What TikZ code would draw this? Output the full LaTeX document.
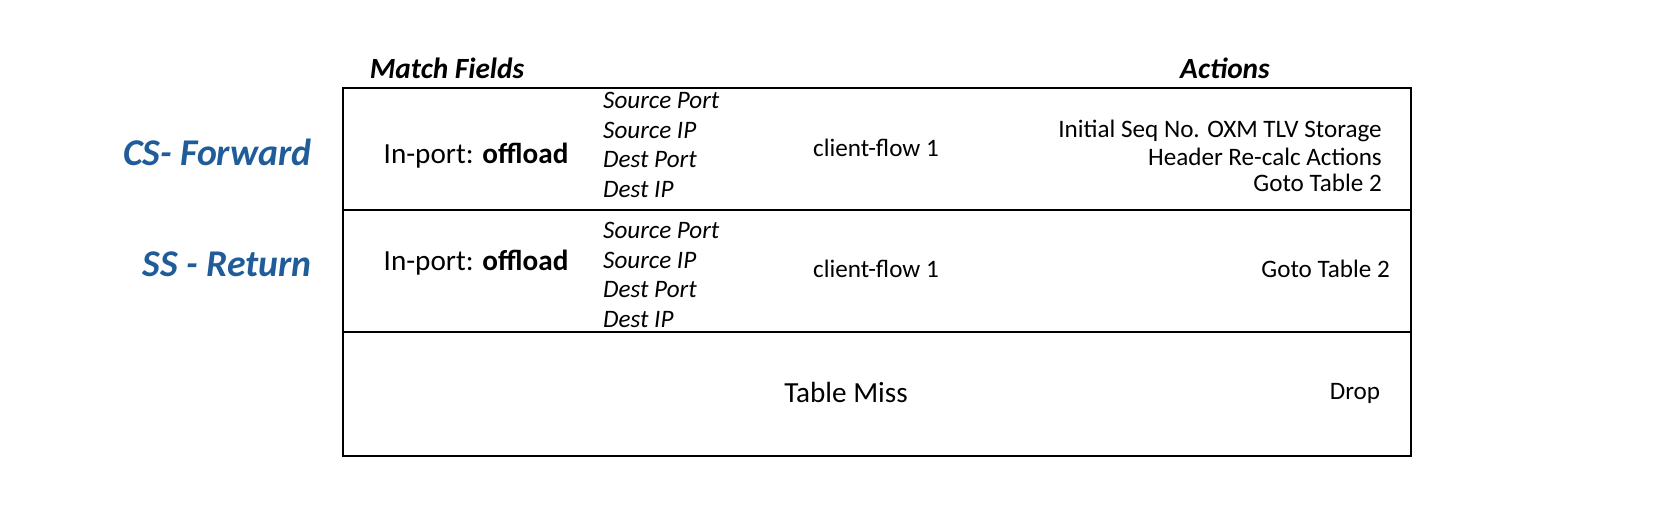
\documentclass[tikz,border=0pt]{standalone}
\usepackage{fontspec}
\setmainfont{Carlito}
\definecolor{lblue}{HTML}{1F5C99}
\begin{document}
\begin{tikzpicture}[x=0.02cm,y=-0.02cm,
  hd/.style={font=\fontsize{16.7}{19}\selectfont\bfseries\itshape},
  lab/.style={font=\fontsize{21.5}{24}\selectfont\bfseries\itshape,text=lblue,anchor=east},
  fld/.style={font=\fontsize{14.3}{16}\selectfont\itshape,anchor=west},
  mid/.style={font=\fontsize{14.3}{16}\selectfont},
  inp/.style={font=\fontsize{16.6}{19}\selectfont},
  act/.style={font=\fontsize{14.3}{16}\selectfont,anchor=east,align=right}]
\useasboundingbox (0,0) rectangle (1655,521);
\draw[line width=1.2pt] (343,88) rectangle (1411,456);
\draw[line width=1.2pt] (343,210) -- (1411,210);
\draw[line width=1.2pt] (343,332) -- (1411,332);
\node[hd] (mf) at (447,68) {Match Fields};
\node[hd] (ac) at (1225,68) {Actions};
\node[lab] (cs) at (318,152) {CS- Forward};
\node[lab] (ss) at (318,264) {SS - Return};
\node[inp] (ip1) at (476,156) {In-port: \textbf{offload}};
\node[inp] (ip2) at (476,263) {In-port: \textbf{offload}};
\node[fld] (a1) at (597,100) {Source Port};
\node[fld] (a2) at (597,130) {Source IP};
\node[fld] (a3) at (597,160) {Dest Port};
\node[fld] (a4) at (597,190) {Dest IP};
\node[fld] (b1) at (597,230) {Source Port};
\node[fld] (b2) at (597,260) {Source IP};
\node[fld] (b3) at (597,290) {Dest Port};
\node[fld] (b4) at (597,320) {Dest IP};
\node[mid] (cf1) at (876,148) {client-flow 1};
\node[mid] (cf2) at (876,269) {client-flow 1};
\node[act] (x1) at (1388,131) {Initial Seq No. OXM TLV Storage};
\node[act] (x2) at (1388,157) {Header Re-calc Actions};
\node[act] (x3) at (1388,183) {Goto Table 2};
\node[act] (y1) at (1396,269) {Goto Table 2};
\node[inp] (tm) at (846,392) {Table Miss};
\node[mid] (dr) at (1355,393) {Drop};
\end{tikzpicture}
\end{document}
